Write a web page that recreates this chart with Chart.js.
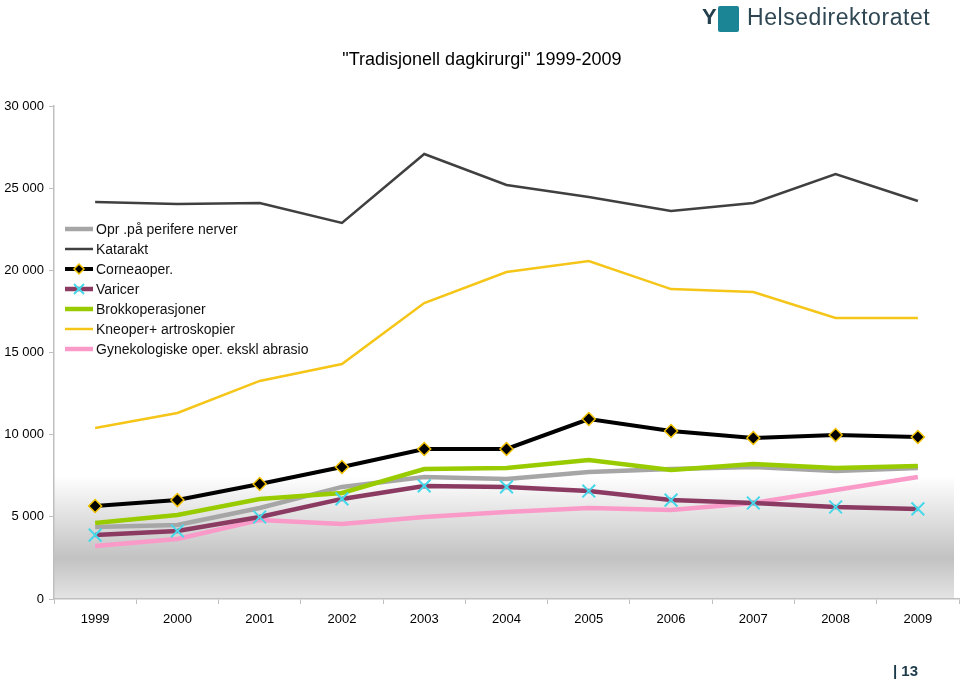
<!DOCTYPE html>
<html>
<head>
<meta charset="utf-8">
<script src="https://cdn.jsdelivr.net/npm/chart.js@4/dist/chart.umd.min.js"></script>
<style>
    body { margin: 0; background: #fff; font-family: "Liberation Sans", Arial, sans-serif; }
    #wrap { position: relative; width: 960px; height: 681px; }
    #chart { position: absolute; left: 0; top: 0; }
    .title { position: absolute; left: 0; width: 964px; top: 49px; text-align: center; font-size: 18px; color: #000; }
    .logo-box { position: absolute; left: 718px; top: 6px; width: 21px; height: 26px; background: #1b8596; border-radius: 2px; }
    .logo-fig { position: absolute; left: 702px; top: 4px; font-size: 22px; font-weight: bold; color: #24404d; }
    .logo-text { position: absolute; left: 747px; top: 4px; font-size: 23px; color: #2f4653; letter-spacing: 0.55px; }
    .pagenr { position: absolute; left: 893px; top: 662px; font-size: 15px; font-weight: bold; color: #1d3a4a; }
</style>
</head>
<body>
<div id="wrap">
    <canvas id="chart" width="960" height="681"></canvas>
    <div class="title">"Tradisjonell dagkirurgi" 1999-2009</div>
    <div class="logo-fig">Y</div>
    <div class="logo-box"></div>
    <div class="logo-text">Helsedirektoratet</div>
    <div class="pagenr">| 13</div>
</div>
<script>
    // Values
    const years = ['1999', '2000', '2001', '2002', '2003', '2004', '2005', '2006', '2007', '2008', '2009'];
    const yTicks = [0, 5000, 10000, 15000, 20000, 25000, 30000];

    const oprPerifere = [4380, 4500, 5540, 6820, 7420, 7300, 7730, 7910, 8030, 7790, 7970];
    const katarakt = [24160, 24040, 24100, 22880, 27080, 25190, 24460, 23610, 24100, 25860, 24220];
    const corneaoper = [5660, 6020, 7000, 8030, 9130, 9130, 10950, 10220, 9800, 9980, 9860];
    const varicer = [3890, 4140, 4990, 6090, 6880, 6820, 6570, 6020, 5840, 5600, 5480];
    const brokk = [4630, 5110, 6090, 6450, 7910, 7970, 8460, 7850, 8220, 7970, 8090];
    const kneoper = [10400, 11320, 13270, 14300, 18010, 19900, 20570, 18860, 18680, 17100, 17100];
    const gynekologiske = [3230, 3650, 4810, 4560, 4990, 5290, 5540, 5420, 5840, 6630, 7420];

    function formatThousands(v) {
        return String(v).replace(/\B(?=(\d{3})+(?!\d))/g, ' ');
    }

    // grey fade at the bottom of the plot area
    const plotBackground = {
        id: 'plotBackground',
        beforeDraw(chart) {
            const { ctx, chartArea } = chart;
            const g = ctx.createLinearGradient(0, chartArea.top, 0, chartArea.bottom);
            const h = chartArea.bottom - chartArea.top;
            g.addColorStop(0, '#ffffff');
            g.addColorStop((476 - chartArea.top) / h, '#ffffff');
            g.addColorStop((558 - chartArea.top) / h, '#c2c2c2');
            g.addColorStop(1, '#e4e4e4');
            ctx.save();
            ctx.fillStyle = g;
            ctx.fillRect(chartArea.left, chartArea.top, chartArea.right - chartArea.left - 5, h);
            ctx.restore();
        }
    };

    // legend drawn inside the plot area
    const insideLegend = {
        id: 'insideLegend',
        afterDatasetsDraw(chart) {
            const ctx = chart.ctx;
            ctx.save();
            ctx.font = '14px "Liberation Sans", Arial, sans-serif';
            ctx.textBaseline = 'middle';
            chart.data.datasets.forEach((ds, i) => {
                const y = 229 + i * 20;
                ctx.strokeStyle = ds.borderColor;
                ctx.lineWidth = ds.borderWidth;
                ctx.beginPath();
                ctx.moveTo(65, y);
                ctx.lineTo(93, y);
                ctx.stroke();
                if (ds.pointRadius > 0) {
                    const r = 5;
                    ctx.fillStyle = ds.pointBackgroundColor;
                    ctx.strokeStyle = ds.pointBorderColor;
                    ctx.lineWidth = ds.pointBorderWidth;
                    ctx.beginPath();
                    if (ds.pointStyle === 'rectRot') {
                        ctx.moveTo(79, y - r); ctx.lineTo(79 + r, y); ctx.lineTo(79, y + r); ctx.lineTo(79 - r, y); ctx.closePath();
                        ctx.fill(); ctx.stroke();
                    } else {
                        ctx.moveTo(79 - r, y - r); ctx.lineTo(79 + r, y + r);
                        ctx.moveTo(79 + r, y - r); ctx.lineTo(79 - r, y + r);
                        ctx.stroke();
                    }
                }
                ctx.fillStyle = '#111';
                ctx.fillText(ds.label, 96, y + 1);
            });
            ctx.restore();
        }
    };

    function lineSet(label, data, color, width, order) {
        return {
            label: label,
            data: data,
            borderColor: color,
            backgroundColor: color,
            borderWidth: width,
            pointRadius: 0,
            tension: 0,
            order: order
        };
    }

    const cornea = lineSet('Corneaoper.', corneaoper, '#000000', 4, 0);
    cornea.pointStyle = 'rectRot';
    cornea.pointRadius = 6.5;
    cornea.pointBackgroundColor = '#000000';
    cornea.pointBorderColor = '#f2c200';
    cornea.pointBorderWidth = 1.5;

    const varic = lineSet('Varicer', varicer, '#8b3a62', 4.5, 1);
    varic.pointStyle = 'crossRot';
    varic.pointRadius = 9;
    varic.pointBackgroundColor = '#45d8ea';
    varic.pointBorderColor = '#45d8ea';
    varic.pointBorderWidth = 2;

    new Chart(document.getElementById('chart'), {
        type: 'line',
        data: {
            labels: years,
            datasets: [
                lineSet('Opr .på perifere nerver', oprPerifere, '#a6a6a6', 4.5, 5),
                lineSet('Katarakt', katarakt, '#404040', 2.5, 2),
                cornea,
                varic,
                lineSet('Brokkoperasjoner', brokk, '#99cc00', 4.5, 4),
                lineSet('Kneoper+ artroskopier', kneoper, '#f5c518', 2.5, 3),
                lineSet('Gynekologiske oper. ekskl abrasio', gynekologiske, '#f99ac8', 4.5, 6)
            ]
        },
        options: {
            responsive: false,
            animation: false,
            layout: { autoPadding: false, padding: { top: 106, right: 1, left: 0, bottom: 0 } },
            plugins: {
                legend: { display: false },
                tooltip: { enabled: false }
            },
            scales: {
                x: {
                    offset: true,
                    grid: { offset: true, drawOnChartArea: false, tickLength: 5, color: '#bfbfbf' },
                    border: { color: '#bfbfbf', width: 1.5 },
                    ticks: { color: '#000', font: { size: 13, family: '"Liberation Sans", Arial' }, padding: 8, maxRotation: 0 },
                    afterFit(scale) {
                        scale.height = 82;
                    }
                },
                y: {
                    min: 0,
                    max: 30000,
                    afterBuildTicks(scale) { scale.ticks = yTicks.map(v => ({ value: v })); },
                    grid: { drawOnChartArea: false, tickLength: 5, color: '#bfbfbf' },
                    border: { color: '#bfbfbf', width: 1.5 },
                    ticks: {
                        color: '#000',
                        font: { size: 13, family: '"Liberation Sans", Arial' },
                        padding: 5,
                        callback: v => formatThousands(v)
                    },
                    afterFit(scale) { scale.width = 54; }
                }
            }
        },
        plugins: [plotBackground, insideLegend]
    });
</script>
</body>
</html>
